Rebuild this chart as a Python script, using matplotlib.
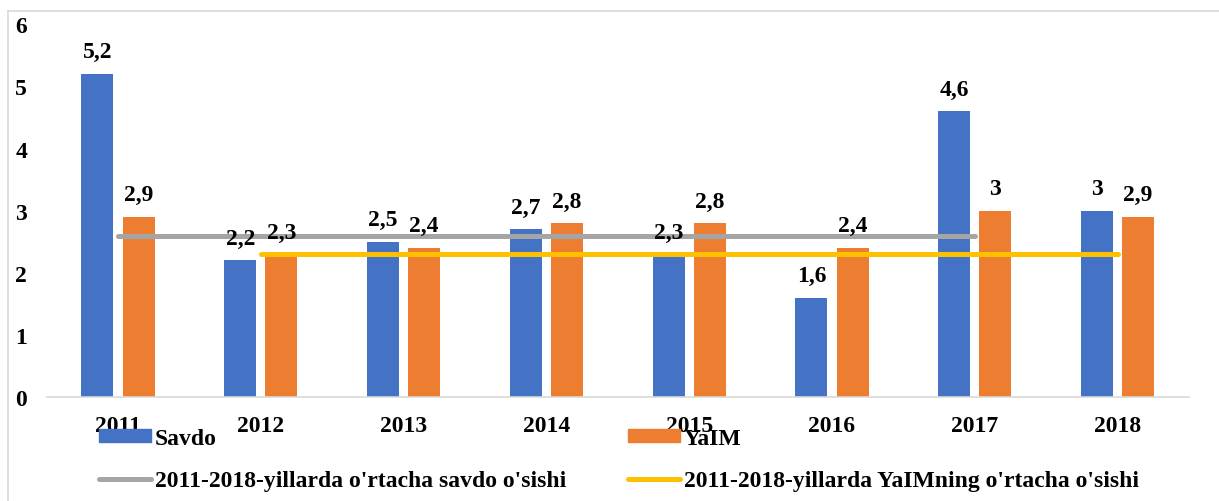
import matplotlib
matplotlib.use("Agg")
import matplotlib.pyplot as plt
from matplotlib.patches import Patch
from matplotlib.lines import Line2D
import numpy as np

years = ["2011", "2012", "2013", "2014", "2015", "2016", "2017", "2018"]
savdo = [5.2, 2.2, 2.5, 2.7, 2.3, 1.6, 4.6, 3.0]
yaim = [2.9, 2.3, 2.4, 2.8, 2.8, 2.4, 3.0, 2.9]
savdo_labels = ["5,2", "2,2", "2,5", "2,7", "2,3", "1,6", "4,6", "3"]
yaim_labels = ["2,9", "2,3", "2,4", "2,8", "2,8", "2,4", "3", "2,9"]
savdo_avg_years = ["2011", "2012", "2013", "2014", "2015", "2016", "2017"]
savdo_avg = [2.6, 2.6, 2.6, 2.6, 2.6, 2.6, 2.6]
yaim_avg_years = ["2012", "2013", "2014", "2015", "2016", "2017", "2018"]
yaim_avg = [2.3, 2.3, 2.3, 2.3, 2.3, 2.3, 2.3]
yticks = [0, 1, 2, 3, 4, 5, 6]

name_savdo = "Savdo"
name_yaim = "YaIM"
name_savdo_avg = "2011-2018-yillarda o'rtacha savdo o'sishi"
name_yaim_avg = "2011-2018-yillarda YaIMning o'rtacha o'sishi"

BLUE = "#4472C4"
ORANGE = "#ED7D31"
GRAY = "#A5A5A5"
YELLOW = "#FFC000"
FS = 17

plt.rcParams['font.family'] = ['Liberation Serif', 'DejaVu Serif']
plt.rcParams['font.weight'] = 'bold'

W, H = 1219, 502
fig = plt.figure(figsize=(W / 100, H / 100), dpi=100)
ax = fig.add_axes([46.6 / W, (H - 398) / H, (1189 - 46.6) / W, (398 - 25.4) / H])

x = np.arange(len(years))
bw = 0.224
off = 0.144
ax.bar(x - off, savdo, width=bw, color=BLUE, zorder=2)
ax.bar(x + off, yaim, width=bw, color=ORANGE, zorder=2)

pos = {y: i for i, y in enumerate(years)}
ax.plot([pos[y] for y in savdo_avg_years], savdo_avg, color=GRAY, lw=3.6,
        solid_capstyle='round', zorder=3)
ax.plot([pos[y] for y in yaim_avg_years], yaim_avg, color=YELLOW, lw=3.6,
        solid_capstyle='round', zorder=3)

for i in range(len(years)):
    ax.annotate(savdo_labels[i], (x[i] - off, savdo[i]), xytext=(0, 12),
                textcoords='offset points', ha='center', va='baseline',
                fontsize=FS, fontweight='bold', zorder=4)
    ax.annotate(yaim_labels[i], (x[i] + off, yaim[i]), xytext=(0, 12),
                textcoords='offset points', ha='center', va='baseline',
                fontsize=FS, fontweight='bold', zorder=4)

ax.set_xlim(-0.5, len(years) - 0.5)
ax.set_ylim(0, 6)
ax.set_yticks(yticks)
ax.set_yticklabels([str(v) for v in yticks], fontsize=FS, fontweight='bold')
ax.set_xticks(x)
ax.set_xticklabels(years, fontsize=FS, fontweight='bold')
ax.tick_params(axis='y', length=0, pad=14)
ax.tick_params(axis='x', length=0, pad=13)
for s in ['top', 'right', 'left']:
    ax.spines[s].set_visible(False)
ax.spines['bottom'].set_color('#D9D9D9')
ax.spines['bottom'].set_linewidth(1.2)

handles = [Patch(color=BLUE), Line2D([], [], color=GRAY, lw=3.6, solid_capstyle='round'),
           Patch(color=ORANGE), Line2D([], [], color=YELLOW, lw=3.6, solid_capstyle='round')]
labels = [name_savdo, name_savdo_avg, name_yaim, name_yaim_avg]
fig.legend(handles, labels, ncol=2, loc='upper left',
           bbox_to_anchor=(99 / W, (H - 429) / H), frameon=False,
           prop={'weight': 'bold', 'size': FS},
           handlelength=2.2, handleheight=0.5, handletextpad=0.17,
           columnspacing=2.62, labelspacing=0.9, borderpad=0, borderaxespad=0)

# outer chart border (left and top visible)
fig.add_artist(Line2D([8 / W, 8 / W], [0, (H - 12) / H], color='#D9D9D9', lw=1.2))
fig.add_artist(Line2D([8 / W, 1], [(H - 12) / H, (H - 12) / H], color='#D9D9D9', lw=1.2))

fig.savefig("out.png", dpi=100)
